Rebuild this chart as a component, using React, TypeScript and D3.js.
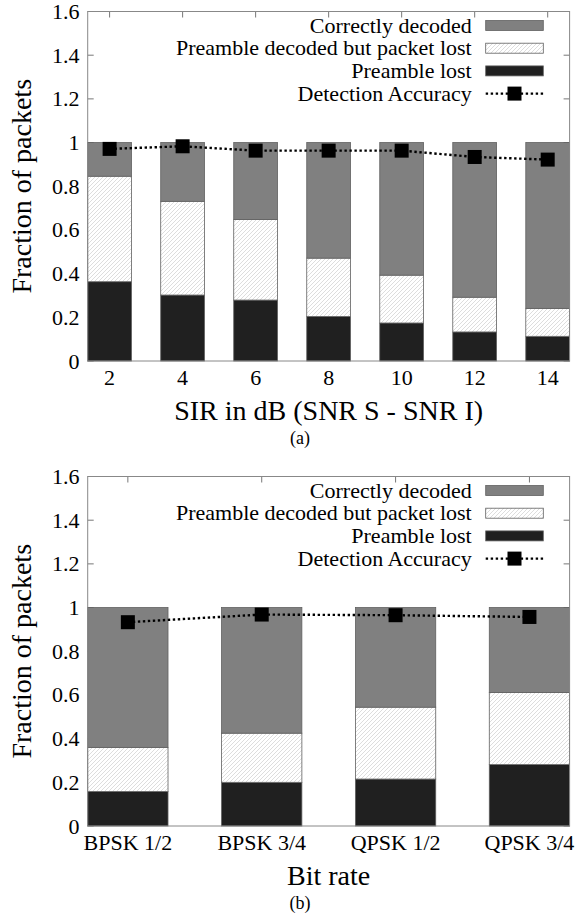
import React from 'react';
import * as d3 from 'd3';

// panel (a): SIR sweep
const sirValues = [2, 4, 6, 8, 10, 12, 14];
const sirPreambleLost = [0.363, 0.302, 0.279, 0.204, 0.174, 0.133, 0.113];
const sirDecodedLost = [0.483, 0.429, 0.369, 0.267, 0.219, 0.159, 0.128];
const sirCorrect = [0.154, 0.269, 0.352, 0.529, 0.607, 0.708, 0.759];
const sirAccuracy = [0.971, 0.983, 0.963, 0.963, 0.963, 0.934, 0.922];

// panel (b): bit rate
const rateLabels = ['BPSK 1/2', 'BPSK 3/4', 'QPSK 1/2', 'QPSK 3/4'];
const ratePreambleLost = [0.158, 0.2, 0.215, 0.281];
const rateDecodedLost = [0.202, 0.225, 0.329, 0.33];
const rateCorrect = [0.64, 0.575, 0.456, 0.389];
const rateAccuracy = [0.933, 0.968, 0.965, 0.957];

const yTicks = [0, 0.2, 0.4, 0.6, 0.8, 1, 1.2, 1.4, 1.6];
const legendLabels = ['Correctly decoded', 'Preamble decoded but packet lost', 'Preamble lost', 'Detection Accuracy'];

const FONT = 'Liberation Serif, DejaVu Serif, serif';
const plotLeft = 87.7;
const plotRight = 569.6;
const GRAY = '#808080';
const DARK = '#202020';

const Panel = ({ dy, xs, labels, xDomain, half, lost, decoded, correct, accuracy, xLabel, caption }) => {
  const x = d3.scaleLinear().domain(xDomain).range([plotLeft, plotRight]);
  const y = d3.scaleLinear().domain([0, 1.6]).range([dy + 361, dy + 11.5]);
  const rows = xs.map((v, i) => ({ x: v, lost: lost[i], decoded: decoded[i], correct: correct[i] }));
  const stack = d3.stack().keys(['lost', 'decoded', 'correct'])(rows);
  const fills = [DARK, 'url(#hatch)', GRAY];
  const line = d3.line().x((d, i) => x(xs[i])).y((d) => y(d));
  const y0 = y(0);
  const yTop = y(1.6);

  return (
    <g style={{ fontFamily: FONT }}>
      {/* ticks, inward, all four sides */}
      {yTicks.map((t) => (
        <g key={'yt' + t}>
          <line x1={plotLeft} x2={plotLeft + 6} y1={y(t)} y2={y(t)} stroke="#777" />
          <line x1={plotRight - 6} x2={plotRight} y1={y(t)} y2={y(t)} stroke="#777" />
          <text x={79.5} y={y(t) + 7.5} textAnchor="end" fontSize={22}>
            {t}
          </text>
        </g>
      ))}
      {xs.map((v, i) => (
        <g key={'xt' + v}>
          <line x1={x(v)} x2={x(v)} y1={yTop} y2={yTop + 6} stroke="#777" />
          <line x1={x(v)} x2={x(v)} y1={y0} y2={y0 - 6} stroke="#777" />
          <text x={x(v)} y={dy + 385} textAnchor="middle" fontSize={22}>
            {labels[i]}
          </text>
        </g>
      ))}

      {stack.map((layer, k) =>
        layer.map((d, i) => (
          <rect
            key={k + '-' + i}
            x={x(xs[i] - half)}
            y={y(d[1])}
            width={x(xs[i] + half) - x(xs[i] - half)}
            height={y(d[0]) - y(d[1])}
            fill={fills[k]}
            stroke="#606060"
            strokeWidth={0.8}
          />
        ))
      )}

      <rect x={plotLeft} y={yTop} width={plotRight - plotLeft} height={y0 - yTop} fill="none" stroke="#888" strokeWidth={1} />

      <path d={line(accuracy)} fill="none" stroke="#000" strokeWidth={2.4} strokeDasharray="2.4,2.6" />
      {accuracy.map((a, i) => (
        <rect key={'m' + i} x={x(xs[i]) - 7} y={y(a) - 7} width={14} height={14} fill="#000" />
      ))}

      {/* legend */}
      {legendLabels.map((l, i) => {
        const cy = dy + 25.5 + i * 22.7;
        return (
          <g key={l}>
            <text x={471.7} y={cy + 7} textAnchor="end" fontSize={22}>
              {l}
            </text>
            {i < 3 ? (
              <rect x={485.7} y={cy - 5} width={57.6} height={10} fill={[GRAY, 'url(#hatch)', DARK][i]} stroke="#606060" strokeWidth={0.8} />
            ) : (
              <g>
                <line x1={485.7} x2={543.3} y1={cy} y2={cy} stroke="#000" strokeWidth={2.4} strokeDasharray="2.4,2.6" />
                <rect x={514.5 - 7} y={cy - 7} width={14} height={14} fill="#000" />
              </g>
            )}
          </g>
        );
      })}

      <text transform={`translate(31,${(y0 + yTop) / 2}) rotate(-90)`} textAnchor="middle" fontSize={28}>
        Fraction of packets
      </text>
      <text x={(plotLeft + plotRight) / 2} y={dy + 420} textAnchor="middle" fontSize={28}>
        {xLabel}
      </text>
      <text x={300} y={dy + 444} textAnchor="middle" fontSize={18}>
        {caption}
      </text>
    </g>
  );
};

const App = () => {
  const rateIdx = rateLabels.map((_, i) => i);
  return (
    <svg width={576} height={924} style={{ position: 'absolute', left: 0, top: 0, background: '#fff' }}>
      <defs>
        <pattern id="hatch" patternUnits="userSpaceOnUse" width={4} height={4}>
          <rect width={4} height={4} fill="#fff" />
          <path d="M0,4 L4,0 M-1,1 L1,-1 M3,5 L5,3" stroke="#cfcfcf" strokeWidth={0.7} />
        </pattern>
      </defs>
      <rect width={576} height={924} fill="#fff" />
      <Panel
        dy={0}
        xs={sirValues}
        labels={sirValues.map(String)}
        xDomain={[1.4, 14.6]}
        half={0.6}
        lost={sirPreambleLost}
        decoded={sirDecodedLost}
        correct={sirCorrect}
        accuracy={sirAccuracy}
        xLabel="SIR in dB (SNR S - SNR I)"
        caption="(a)"
      />
      <Panel
        dy={465}
        xs={rateIdx}
        labels={rateLabels}
        xDomain={[-0.3, 3.3]}
        half={0.3}
        lost={ratePreambleLost}
        decoded={rateDecodedLost}
        correct={rateCorrect}
        accuracy={rateAccuracy}
        xLabel="Bit rate"
        caption="(b)"
      />
    </svg>
  );
};

export default App;
